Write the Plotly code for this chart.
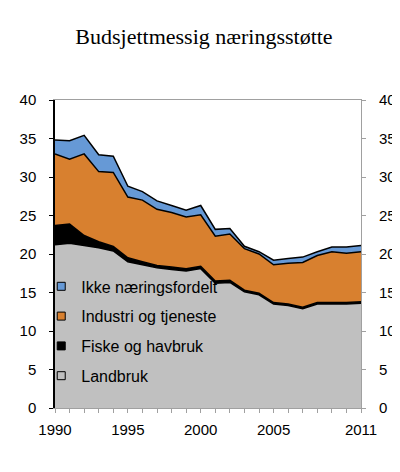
import plotly.graph_objects as go

years = list(range(1990, 2012))

landbruk = [21.2, 21.4, 21.1, 20.8, 20.4, 19.0, 18.6, 18.2, 18.0, 17.8, 18.1,
            16.2, 16.3, 15.1, 14.7, 13.5, 13.3, 12.9, 13.5, 13.5, 13.5, 13.6]
fiske = [2.5, 2.5, 1.3, 0.8, 0.6, 0.5, 0.4, 0.3, 0.3, 0.3, 0.3,
         0.3, 0.3, 0.2, 0.2, 0.2, 0.2, 0.2, 0.2, 0.2, 0.2, 0.2]
industri = [9.3, 8.4, 10.6, 9.1, 9.6, 7.9, 8.0, 7.3, 7.1, 6.7, 6.7,
            5.8, 6.0, 5.4, 5.1, 4.9, 5.3, 5.8, 6.1, 6.6, 6.4, 6.5]
ikke = [1.8, 2.4, 2.4, 2.2, 2.1, 1.4, 1.1, 1.1, 0.9, 0.9, 1.2,
        0.9, 0.7, 0.3, 0.3, 0.6, 0.6, 0.7, 0.5, 0.6, 0.8, 0.8]

x_labels = {1990: "1990", 1995: "1995", 2000: "2000", 2005: "2005", 2011: "2011"}
y_ticks = [0, 5, 10, 15, 20, 25, 30, 35, 40]

series = [
    ("Landbruk", landbruk, "#C0C0C0"),
    ("Fiske og havbruk", fiske, "#000000"),
    ("Industri og tjeneste", industri, "#D8802F"),
    ("Ikke næringsfordelt", ikke, "#6699D6"),
]

fig = go.Figure()

# stacked areas, black outline on top of each
for name, vals, col in series:
    fig.add_trace(go.Scatter(
        x=years, y=vals, name=name, stackgroup="one",
        fillcolor=col, line=dict(color="black", width=1.5),
        mode="lines", showlegend=False, hoverinfo="skip",
    ))

# small square legend markers, top item first
for name, vals, col in reversed(series):
    fig.add_trace(go.Scatter(
        x=[None], y=[None], name=name, mode="markers",
        marker=dict(symbol="square", size=8, color=col,
                    line=dict(color="black", width=1)),
        legendgroup=name, showlegend=True,
    ))

# dummy trace so the right axis gets drawn
fig.add_trace(go.Scatter(x=[years[0]], y=[0], yaxis="y2", mode="markers",
                         marker=dict(opacity=0), showlegend=False,
                         hoverinfo="skip"))

fig.update_layout(
    width=400, height=472,
    margin=dict(l=35, r=34, t=92, b=72),
    paper_bgcolor="white", plot_bgcolor="white",
    font=dict(family="Arial, Liberation Sans", size=15, color="black"),
    title=dict(text="Budsjettmessig næringsstøtte", x=0.49, xref="container",
               y=0.941, yanchor="middle",
               font=dict(family="Times New Roman, Liberation Serif", size=22,
                         color="black")),
    showlegend=True,
    legend=dict(x=-0.045, y=0.45, xanchor="left", yanchor="top",
                traceorder="grouped", tracegroupgap=6,
                bgcolor="rgba(0,0,0,0)", font=dict(size=16),
                itemwidth=30),
    xaxis=dict(range=[1990, 2011], tickvals=years,
               ticktext=[x_labels.get(y, "") for y in years],
               ticks="outside", ticklen=4, tickcolor="#A0A0A0",
               showline=True, linecolor="#A0A0A0", linewidth=1, mirror=True,
               showgrid=False, zeroline=False, ticklabelstandoff=4),
    yaxis=dict(range=[0, 40], tickvals=y_ticks, ticks="outside", ticklen=4,
               tickcolor="black", showline=True, linecolor="black",
               linewidth=1.5, showgrid=False, zeroline=False,
               ticklabelstandoff=10),
    yaxis2=dict(range=[0, 40], tickvals=y_ticks, overlaying="y", side="right",
                ticks="outside", ticklen=4, tickcolor="#A0A0A0",
                showline=True, linecolor="#A0A0A0", linewidth=1,
                showgrid=False, zeroline=False, ticklabelstandoff=10),
)

fig.write_html("out.html")
